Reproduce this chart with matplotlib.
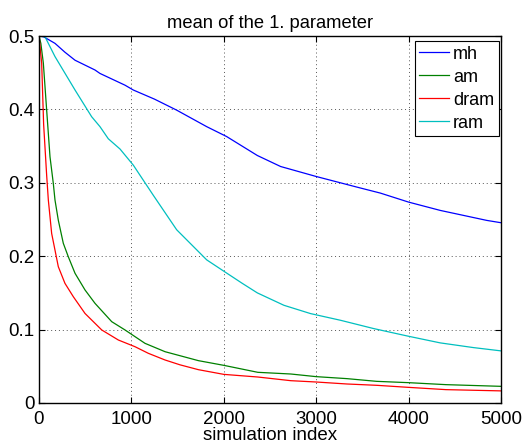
import matplotlib
matplotlib.use('Agg')
import matplotlib.pyplot as plt

plt.rcParams['font.family'] = ['Liberation Sans', 'DejaVu Sans']

# mean of the first parameter vs. simulation index for each sampler
mh_x = [0, 50, 173, 280, 390, 606, 660, 931, 1021, 1250, 1490, 1815, 2031, 2363,
        2615, 3000, 3442, 3694, 4000, 4342, 4845, 5000]
mh_y = [0.5, 0.499, 0.490, 0.478, 0.467, 0.4537, 0.449, 0.433, 0.4264, 0.414, 0.399,
        0.3765, 0.363, 0.3372, 0.3222, 0.3086, 0.2941, 0.286, 0.2737, 0.2624, 0.2488, 0.2456]

am_x = [0, 20, 47, 83, 119, 155, 173, 209, 263, 317, 390, 498, 606, 787, 931, 1147,
        1364, 1725, 2000, 2368, 2725, 3000, 3332, 3654, 4000, 4404, 5000]
am_y = [0.5, 0.49, 0.463, 0.399, 0.3355, 0.299, 0.2766, 0.249, 0.2176, 0.1993, 0.1767,
        0.154, 0.1358, 0.1108, 0.0995, 0.0813, 0.0699, 0.0577, 0.0513, 0.0418, 0.0395,
        0.0359, 0.0332, 0.0295, 0.0277, 0.025, 0.0227]

dram_x = [0, 29, 50, 83, 101, 137, 209, 281, 371, 498, 679, 859, 1039, 1183, 1364,
          1526, 1725, 2000, 2368, 2725, 3000, 3332, 3654, 4000, 4404, 5000]
dram_y = [0.5, 0.463, 0.38, 0.31, 0.2766, 0.231, 0.1857, 0.163, 0.1449, 0.122, 0.0995,
          0.0858, 0.0767, 0.0677, 0.0586, 0.052, 0.0454, 0.039, 0.0354, 0.0304, 0.0286,
          0.0259, 0.0241, 0.0213, 0.0182, 0.0165]

ram_x = [0, 65, 173, 390, 570, 660, 750, 877, 1021, 1237, 1490, 1815, 2031, 2200,
         2363, 2651, 2939, 3263, 3622, 4000, 4342, 4701, 5000]
ram_y = [0.5, 0.499, 0.472, 0.4264, 0.390, 0.3765, 0.360, 0.346, 0.324, 0.283,
         0.236, 0.195, 0.177, 0.163, 0.150, 0.1331, 0.1218, 0.1127, 0.1014, 0.0909,
         0.0819, 0.0755, 0.071]

series = [
    ('mh', mh_x, mh_y, '#0000ff'),
    ('am', am_x, am_y, '#008000'),
    ('dram', dram_x, dram_y, '#ff0000'),
    ('ram', ram_x, ram_y, '#00bfbf'),
]

fig = plt.figure(figsize=(5.27, 4.43), dpi=100)
ax = fig.add_axes([0.074, 0.0903, 0.8767, 0.8284])

for name, xs, ys, col in series:
    ax.plot(xs, ys, color=col, lw=0.9, label=name)

ax.set_xlim(0, 5000)
ax.set_ylim(0, 0.5)
ax.set_xticks([0, 1000, 2000, 3000, 4000, 5000])
ax.set_yticks([0, 0.1, 0.2, 0.3, 0.4, 0.5])
ax.set_yticklabels(['0', '0.1', '0.2', '0.3', '0.4', '0.5'])
ax.tick_params(direction='in', top=True, right=True, length=4, width=0.8,
               labelsize=13.5)
ax.tick_params(axis='x', pad=5.5)
ax.tick_params(axis='y', pad=3)
ax.grid(True, linestyle=(0, (1, 3)), color='#555555', lw=0.7)
for sp in ax.spines.values():
    sp.set_linewidth(1.0)

ax.set_title('mean of the 1. parameter', fontsize=13.2, pad=6)
ax.set_xlabel('simulation index', fontsize=13.5, labelpad=-0.5)

leg = ax.legend(loc='upper right', bbox_to_anchor=(0.995, 0.986), fontsize=13,
                fancybox=False, framealpha=1, edgecolor='black',
                handlelength=1.66, handletextpad=0.2, labelspacing=0.33,
                borderpad=0.25, borderaxespad=0)
leg.get_frame().set_linewidth(0.8)

fig.savefig('out.png', dpi=100)
